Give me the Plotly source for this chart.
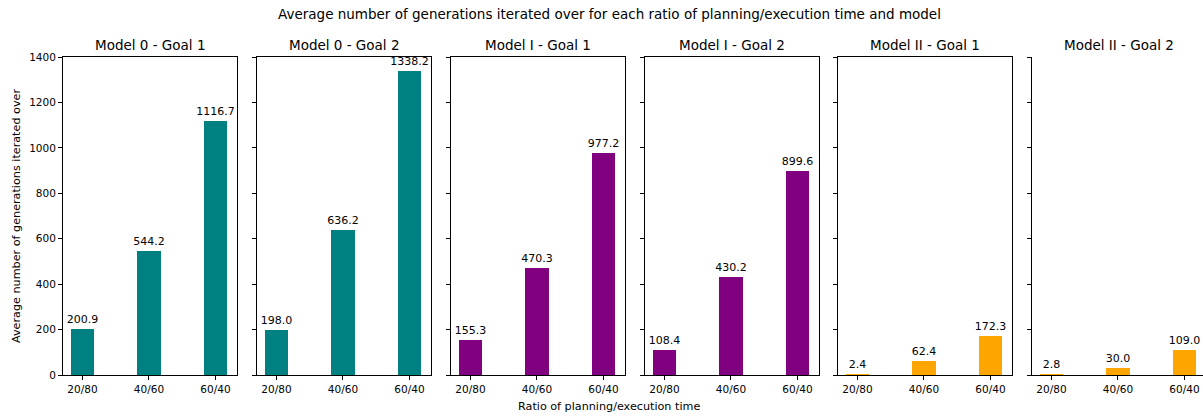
import plotly.graph_objects as go

categories = ["20/80", "40/60", "60/40"]
panel_titles = ["Model 0 - Goal 1", "Model 0 - Goal 2", "Model I - Goal 1",
                "Model I - Goal 2", "Model II - Goal 1", "Model II - Goal 2"]
model0_goal1 = [200.9, 544.2, 1116.7]
model0_goal2 = [198.0, 636.2, 1338.2]
model1_goal1 = [155.3, 470.3, 977.2]
model1_goal2 = [108.4, 430.2, 899.6]
model2_goal1 = [2.4, 62.4, 172.3]
model2_goal2 = [2.8, 30.0, 109.0]
series = [model0_goal1, model0_goal2, model1_goal1, model1_goal2, model2_goal1, model2_goal2]
colors = ["teal", "teal", "purple", "purple", "orange", "orange"]

W, H = 1203, 417
ML, MT, MB = 63, 57, 42
PW, PH = W - ML, H - MT - MB
left_px = [63, 257, 451, 645, 838, 1032]
panel_w = 174
FONT = "DejaVu Sans"


def px_x(px):
    return (px - ML) / PW


def px_y(py):
    return 1 - (py - MT) / PH


fig = go.Figure()
layout = {}
anns = []
for i, (vals, col, title) in enumerate(zip(series, colors, panel_titles)):
    n = "" if i == 0 else str(i + 1)
    right = min(left_px[i] + panel_w, W)
    x0 = px_x(left_px[i])
    x1 = min(px_x(right), 1.0)
    unit = 66.5
    xr_end = -0.2925 + (right - left_px[i]) / unit
    fig.add_trace(go.Bar(
        x=[0, 1, 2], y=vals, width=0.35, marker=dict(color=col, line=dict(width=0)),
        text=[f"{v:.1f}" for v in vals], textposition="outside", cliponaxis=False,
        constraintext="none",
        textfont=dict(family=FONT, size=11, color="black"),
        xaxis="x" + n, yaxis="y" + n, showlegend=False,
    ))
    last = i == 5
    layout["xaxis" + n] = dict(
        domain=[x0, x1], range=[-0.2925, xr_end], anchor="y" + n, automargin=False,
        tickvals=[0, 1, 2], ticktext=categories, ticks="outside", ticklen=4,
        tickcolor="black", showgrid=False, zeroline=False, showline=True,
        linecolor="black", linewidth=1, mirror=False if last else True,
        tickfont=dict(family=FONT, size=10.5, color="black"),
    )
    layout["yaxis" + n] = dict(
        domain=[0, 1], range=[0, 1400], anchor="x" + n, automargin=False,
        tickvals=[0, 200, 400, 600, 800, 1000, 1200, 1400], ticks="outside", ticklen=4,
        tickcolor="black", showgrid=False, zeroline=False, showline=True,
        linecolor="black", linewidth=1, mirror=True, showticklabels=(i == 0),
        tickfont=dict(family=FONT, size=10.5, color="black"),
    )
    anns.append(dict(text=title, x=px_x(left_px[i] + panel_w / 2), y=px_y(45),
                     xref="paper", yref="paper", showarrow=False,
                     font=dict(family=FONT, size=13.5, color="black"),
                     xanchor="center", yanchor="middle"))

layout["yaxis"]["title"] = dict(text="Average number of generations iterated over",
                                font=dict(family=FONT, size=11.2, color="black"), standoff=6)

anns.append(dict(text="Average number of generations iterated over for each ratio of planning/execution time and model",
                 x=px_x(609), y=px_y(14), xref="paper", yref="paper", showarrow=False,
                 font=dict(family=FONT, size=13.5, color="black"), xanchor="center", yanchor="middle"))
anns.append(dict(text="Ratio of planning/execution time",
                 x=px_x(609), y=px_y(406), xref="paper", yref="paper", showarrow=False,
                 font=dict(family=FONT, size=11.2, color="black"), xanchor="center", yanchor="middle"))

fig.update_layout(
    width=W, height=H, margin=dict(l=ML, r=0, t=MT, b=MB, autoexpand=False),
    plot_bgcolor="white", paper_bgcolor="white", bargap=0,
    annotations=anns,
    **layout,
)
fig.write_html("out.html")
